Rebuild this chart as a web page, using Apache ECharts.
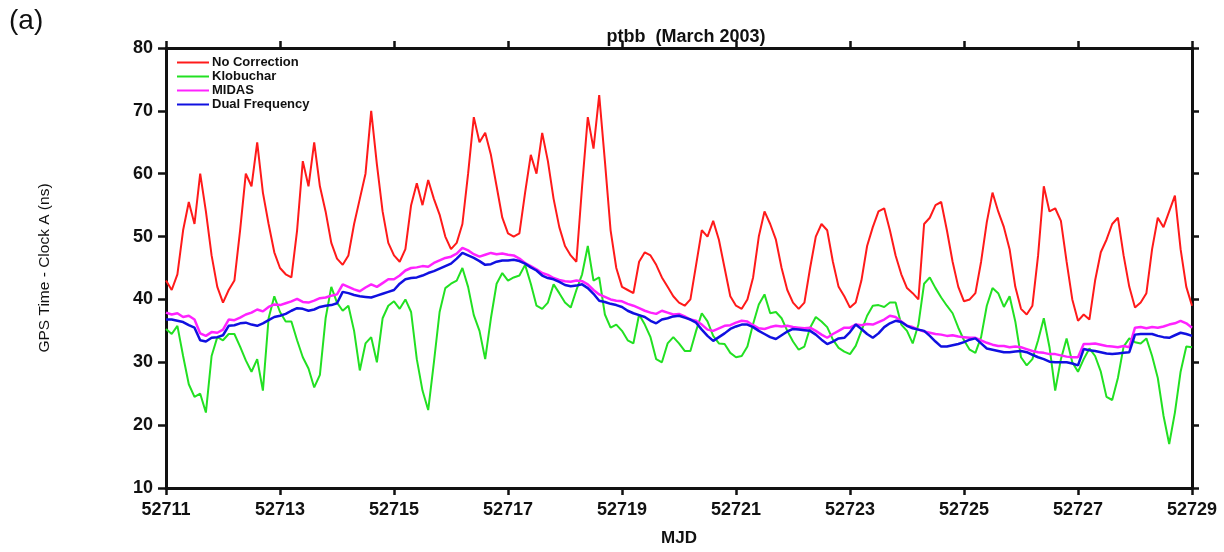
<!DOCTYPE html>
<html>
<head>
<meta charset="utf-8">
<script src="https://cdn.jsdelivr.net/npm/echarts@6/dist/echarts.min.js"></script>
<style>
html,body{margin:0;padding:0;background:#fff;}
#chart{width:1224px;height:552px;}
</style>
</head>
<body>
<div id="chart"></div>
<script>
// MJD sampling grid (0.1 day)
const mjd = [
52711.0,52711.1,52711.2,52711.3,52711.4,52711.5,52711.6,52711.7,52711.8,52711.9,
52712.0,52712.1,52712.2,52712.3,52712.4,52712.5,52712.6,52712.7,52712.8,52712.9,
52713.0,52713.1,52713.2,52713.3,52713.4,52713.5,52713.6,52713.7,52713.8,52713.9,
52714.0,52714.1,52714.2,52714.3,52714.4,52714.5,52714.6,52714.7,52714.8,52714.9,
52715.0,52715.1,52715.2,52715.3,52715.4,52715.5,52715.6,52715.7,52715.8,52715.9,
52716.0,52716.1,52716.2,52716.3,52716.4,52716.5,52716.6,52716.7,52716.8,52716.9,
52717.0,52717.1,52717.2,52717.3,52717.4,52717.5,52717.6,52717.7,52717.8,52717.9,
52718.0,52718.1,52718.2,52718.3,52718.4,52718.5,52718.6,52718.7,52718.8,52718.9,
52719.0,52719.1,52719.2,52719.3,52719.4,52719.5,52719.6,52719.7,52719.8,52719.9,
52720.0,52720.1,52720.2,52720.3,52720.4,52720.5,52720.6,52720.7,52720.8,52720.9,
52721.0,52721.1,52721.2,52721.3,52721.4,52721.5,52721.6,52721.7,52721.8,52721.9,
52722.0,52722.1,52722.2,52722.3,52722.4,52722.5,52722.6,52722.7,52722.8,52722.9,
52723.0,52723.1,52723.2,52723.3,52723.4,52723.5,52723.6,52723.7,52723.8,52723.9,
52724.0,52724.1,52724.2,52724.3,52724.4,52724.5,52724.6,52724.7,52724.8,52724.9,
52725.0,52725.1,52725.2,52725.3,52725.4,52725.5,52725.6,52725.7,52725.8,52725.9,
52726.0,52726.1,52726.2,52726.3,52726.4,52726.5,52726.6,52726.7,52726.8,52726.9,
52727.0,52727.1,52727.2,52727.3,52727.4,52727.5,52727.6,52727.7,52727.8,52727.9,
52728.0,52728.1,52728.2,52728.3,52728.4,52728.5,52728.6,52728.7,52728.8,52728.9,
52729.0
];

const noCorrection = [
43,41.5,44,51,55.5,52,60,54,47,42,
39.5,41.5,43,51,60,58,65,57,52,47.5,
45,44,43.5,51,62,58,65,58,54,49,
46.5,45.5,47,52,56,60,70,61.5,54,49,
47,46,48,55,58.5,55,59,56,53.5,50,
48,49,52,60,69,65,66.5,63,58,53,
50.5,50,50.5,57,63,60,66.5,62,56,51.5,
48.5,47,46,58,69,64,72.5,62,51,45,
42,41.5,41,46,47.5,47,45.5,43.5,42,40.5,
39.5,39,40,45.5,51,50,52.5,49.5,45,40.5,
39,38.5,40,43.5,50,54,52,49.5,45,41.5,
39.5,38.5,39.5,45,50,52,51,46,42,40.5,
38.7,39.5,43,48.5,51.5,54,54.5,51,47,44,
41.8,41,40,52,53,55,55.5,51,46,42,
39.7,40,41,46,52.3,57,54,51.5,48,42,
38.5,37.6,39,47,58,54,54.5,52.5,46,40,
36.6,37.6,36.8,43,47.5,49.5,52,53,47,42,
38.7,39.5,41,48,53,51.5,54,56.5,48,42,
39
];

const klobuchar = [
35.3,34.5,35.8,31,26.5,24.5,25,22,31,34,
33.5,34.5,34.5,32.5,30.3,28.5,30.5,25.5,37,40.5,
38,36.5,36.5,33.5,30.8,29,26,28,37,42,
39.5,38.2,39,35,28.7,33,34,30,37,39,
39.7,38.5,40,38,30.5,25.5,22.4,30,38,41.8,
42.5,43,45,42,37.5,35,30.5,37,42.5,44.2,
43,43.5,43.8,45.5,42.5,39,38.5,39.5,42.4,41,
39.5,38.7,41.5,44,48.5,43,43.5,37.6,35.5,36,
35,33.5,33,37.6,36,34,30.5,30,33,34,
33,31.8,31.8,35,37.8,36.5,34.2,33,32.9,31.5,
30.8,31,32.5,36.1,39.2,40.8,37.8,38,37,35,
33.3,32,32.5,35.5,37.2,36.5,35.6,33.6,32.3,31.7,
31.3,32.6,35,37.4,39,39.1,38.8,39.5,39.5,36,
35,33,36,42.5,43.5,41.8,40.3,39,37.8,35.5,
33.5,32,31.5,34,39,41.8,41,38.8,40.5,36.5,
30.8,29.5,30.5,33.5,37,32.4,25.5,30.5,33.8,30,
28.5,30.5,32.2,31,28.5,24.5,24,27.5,32.5,33.8,
33.2,33,33.8,31,27.5,21.5,17,22,28.5,32.5,
32.4
];

const midas = [
37.9,37.6,37.8,37.2,37.4,36.8,34.6,34.2,34.8,34.7,
35.2,36.8,36.7,37.1,37.6,37.9,38.4,38.1,38.8,39.2,
39.1,39.4,39.7,40.1,39.6,39.5,39.8,40.2,40.3,40.6,
40.8,42.4,42,41.6,41.3,41.9,42.4,42,42.6,43.2,
43.2,43.8,44.6,45,45.1,45.3,45.2,45.8,46.2,46.6,
46.8,47.3,48.2,47.8,47.2,46.8,47.1,47.4,47.2,47.3,
47.1,47,46.5,45.8,45.3,44.8,44.2,43.9,43.4,43.1,
42.9,42.8,43,42.9,42.4,41.5,40.8,40.4,40,39.8,
39.7,39.3,39,38.6,38.2,37.9,37.7,38.2,37.9,37.6,
37.7,37.3,36.8,36.6,36,35.2,35,35.4,35.8,35.9,
36.3,36.6,36.5,35.9,35.4,35.3,35.6,35.8,35.7,35.8,
35.6,35.5,35.4,35.5,35,34.4,33.9,34.5,35,35.5,
35.5,36,35.9,36.1,36,36.4,36.8,37.4,37.2,36.5,
35.8,35.6,35.2,34.9,34.7,34.5,34.4,34.2,34.3,34.1,
34,33.9,33.9,33.5,33.1,32.8,32.6,32.6,32.4,32.5,
32.4,32.1,31.8,31.6,31.5,31.3,31.3,31.1,30.9,30.8,
30.8,32.9,32.9,33,32.8,32.6,32.5,32.4,32.6,32.4,
35.5,35.6,35.4,35.6,35.5,35.7,36,36.2,36.6,36.2,
35.5
];

const dualFrequency = [
36.8,36.8,36.6,36.4,35.9,35.5,33.5,33.3,33.9,34,
34.3,35.8,35.9,36.2,36.3,36,35.8,36.2,36.7,37.2,
37.4,37.7,38.2,38.6,38.5,38.2,38.4,38.8,39,39.1,
39.4,41.2,41,40.7,40.5,40.4,40.3,40.6,40.9,41.2,
41.5,42.5,43.2,43.4,43.5,43.8,44.2,44.5,44.9,45.3,
45.7,46.5,47.4,47,46.6,46.1,45.5,45.6,46,46.2,
46.2,46.3,46.1,45.7,45.1,44.6,43.8,43.4,43.2,42.8,
42.3,42.1,42.2,42.4,41.8,40.9,39.8,39.6,39.3,39.1,
38.8,38.2,37.8,37.5,37.2,36.6,36.2,36.8,37,37.3,
37.4,37.1,36.8,36.3,35.2,34.2,33.4,34,34.6,35.3,
35.7,36,36,35.6,35,34.5,34,33.7,34.3,34.9,
35.3,35.2,35.1,35,34.4,33.6,32.9,33.3,33.8,33.9,
34.8,36,35.3,34.5,33.9,34.6,35.6,36.2,36.6,36.4,
35.8,35.4,35.2,35,34.2,33.3,32.5,32.5,32.7,32.9,
33.2,33.6,33.8,33,32.2,32,31.8,31.6,31.6,31.7,
31.8,31.6,31.2,30.8,30.5,30.1,30,30,30,29.8,
29.5,32.1,31.9,31.8,31.6,31.4,31.3,31.4,31.5,31.6,
34.4,34.5,34.5,34.5,34.2,34,33.9,34.3,34.7,34.5,
34.2
];

const seriesNames = ['No Correction','Klobuchar','MIDAS','Dual Frequency'];
const seriesColors = ['#ff1a1a','#22e022','#ff22ff','#1010e0'];
const seriesValues = [noCorrection, klobuchar, midas, dualFrequency];
const seriesWidths = [2, 2, 2.5, 2.5];

const xMin = 52711, xMax = 52729, xStep = 2;
const yMin = 10, yMax = 80, yStep = 10;

const FONT = '"Liberation Sans", Arial, sans-serif';
const axisLineStyle = {color:'#111', width:3};
const tickStyle = {color:'#111', width:2.5};

const chart = echarts.init(document.getElementById('chart'), null, {renderer:'canvas'});

const series = seriesNames.map((name, i) => ({
  name: name,
  type: 'line',
  xAxisIndex: 0,
  yAxisIndex: 0,
  showSymbol: false,
  symbol: 'none',
  animation: false,
  lineStyle: {color: seriesColors[i], width: seriesWidths[i]},
  itemStyle: {color: seriesColors[i]},
  data: mjd.map((t, k) => [t, seriesValues[i][k]]),
  z: 2 + i
}));

const option = {
  animation: false,
  backgroundColor: '#ffffff',
  textStyle: {fontFamily: FONT},
  graphic: [
    {type:'text', left: 9, top: 7, style:{text:'(a)', font:'28px ' + FONT, fill:'#111'}}
  ],
  title: {
    text: 'ptbb  (March 2003)',
    left: 681,
    top: 23,
    textAlign: 'center',
    textStyle: {fontFamily: FONT, fontSize: 18, fontWeight: 'bold', color:'#111'}
  },
  legend: {
    orient: 'vertical',
    left: 172,
    top: 51,
    itemWidth: 32,
    itemHeight: 2,
    itemGap: 1,
    icon: 'rect',
    data: seriesNames,
    textStyle: {fontFamily: FONT, fontSize: 13, fontWeight: 'bold', color:'#111', padding:[0,0,0,-2]}
  },
  grid: {left: 166, right: 32, top: 48, bottom: 61, containLabel: false},
  xAxis: [
    {
      type: 'value', position: 'bottom', min: xMin, max: xMax, interval: xStep,
      name: 'MJD', nameLocation: 'middle', nameGap: 42,
      nameTextStyle: {fontFamily: FONT, fontSize: 17, fontWeight: 'bold', color:'#111'},
      axisLine: {show:true, onZero:false, lineStyle: axisLineStyle},
      axisTick: {show:true, inside:false, length:7, lineStyle: tickStyle},
      axisLabel: {show:true, margin: 13, fontFamily: FONT, fontSize: 18, fontWeight:'bold', color:'#111', formatter: v => String(v)},
      splitLine: {show:false}
    },
    {
      type: 'value', position: 'top', min: xMin, max: xMax, interval: xStep,
      axisLine: {show:true, onZero:false, lineStyle: axisLineStyle},
      axisTick: {show:true, inside:false, length:7, lineStyle: tickStyle},
      axisLabel: {show:false},
      splitLine: {show:false}
    }
  ],
  yAxis: [
    {
      type: 'value', position: 'left', min: yMin, max: yMax, interval: yStep,
      name: 'GPS Time - Clock A (ns)', nameLocation: 'middle', nameGap: 113,
      nameTextStyle: {fontFamily: FONT, fontSize: 15.5, color:'#111'},
      axisLine: {show:true, onZero:false, lineStyle: axisLineStyle},
      axisTick: {show:true, inside:false, length:8, lineStyle: tickStyle},
      axisLabel: {show:true, margin: 13, fontFamily: FONT, fontSize: 18, fontWeight:'bold', color:'#111'},
      splitLine: {show:false}
    },
    {
      type: 'value', position: 'right', min: yMin, max: yMax, interval: yStep,
      axisLine: {show:true, onZero:false, lineStyle: axisLineStyle},
      axisTick: {show:true, inside:false, length:7, lineStyle: tickStyle},
      axisLabel: {show:false},
      splitLine: {show:false}
    }
  ],
  series: series
};

chart.setOption(option);
</script>
</body>
</html>
